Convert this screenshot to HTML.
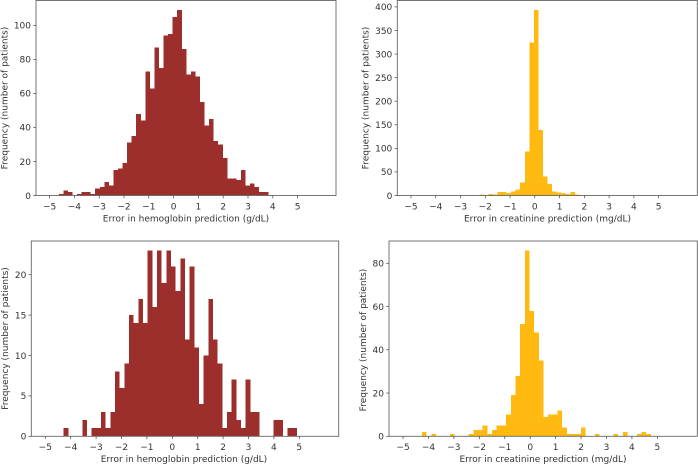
<!DOCTYPE html>
<html>
<head>
<meta charset="utf-8">
<title>Prediction error histograms</title>
<style>
html,body{margin:0;padding:0;background:#fff;}
svg{display:block;}
text{font-family:"DejaVu Sans","Liberation Sans",sans-serif;font-size:9px;fill:#333;}
</style>
</head>
<body>
<svg id="figure" width="698" height="464" viewBox="0 0 698 464" xmlns="http://www.w3.org/2000/svg"></svg>
<script>
const xTickValues = [-5,-4,-3,-2,-1,0,1,2,3,4,5];
const xTickLabels = ['\u22125','\u22124','\u22123','\u22122','\u22121','0','1','2','3','4','5'];
const binWidth = 0.1837;

const hemoglobinTopStart = -4.63;
const hemoglobinTopCounts = [1,3,2,0,1,2,2,1,4,5,8,6,15,16,19,31,35,48,44,73,63,87,75,94,95,105,109,86,71,73,70,55,41,45,32,30,22,10,10,9,15,6,7,5,2,2];
const hemoglobinTopYTicks = [0,20,40,60,80,100];

const creatinineTopStart = -4.63;
const creatinineTopCounts = [1,0,0,0,0,0,0,0,0,0,0,0,0,2,1,3,2,7,7,5,8,13,28,93,325,393,139,40,24,9,6,5,3,7,2,1,1,0,0,0,0,0,0,1,0,1,0,0,0,0,1];
const creatinineTopYTicks = [0,50,100,150,200,250,300,350,400];

const hemoglobinBottomStart = -4.275;
const hemoglobinBottomCounts = [1,0,0,0,2,0,1,1,3,1,3,8,6,9,15,14,17,14,23,16,23,19,23,21,18,22,12,21,11,4,10,17,12,9,1,3,7,2,1,7,3,3,0,0,0,2,2,0,1,1];
const hemoglobinBottomYTicks = [0,5,10,15,20];

const creatinineBottomStart = -4.255;
const creatinineBottomCounts = [2,0,1,0,0,0,1,0,0,0,1,3,3,5,1,3,5,5,10,19,28,52,86,58,48,35,9,10,10,12,4,1,1,1,4,0,0,1,0,0,0,1,0,2,0,0,1,2,1];
const creatinineBottomYTicks = [0,20,40,60,80];

const svgNS = 'http://www.w3.org/2000/svg';
const figure = document.getElementById('figure');

function make(parent, tag, attrs, text) {
  const el = document.createElementNS(svgNS, tag);
  for (const k in attrs) el.setAttribute(k, attrs[k]);
  if (text !== undefined) el.textContent = text;
  parent.appendChild(el);
  return el;
}

function drawPanel(p) {
  const g = make(figure, 'g', {});
  
  

  const xScale = v => p.zeroX + v * p.pxPerX;
  const yScale = v => p.bottom - v * p.pxPerY;

  p.counts.forEach((count, i) => {
    if (count <= 0) return;
    const left = xScale(p.start + i * binWidth);
    const right = xScale(p.start + (i + 1) * binWidth);
    const bar = make(g, 'rect', {
      x: left, y: yScale(count), width: right - left, height: p.bottom - yScale(count),
      fill: p.color, 'shape-rendering': 'crispEdges'
    });
    
    
  });

  const frame = make(g, 'rect', {
    x: p.left, y: p.top, width: p.right - p.left, height: p.bottom - p.top,
    fill: 'none', stroke: '#666', 'stroke-width': 0.9
  });
  
  

  xTickValues.forEach((v, i) => {
    const x = xScale(v);
    const tick = make(g, 'line', {x1: x, x2: x, y1: p.bottom, y2: p.bottom + 2.8, stroke: '#444', 'stroke-width': 0.7});
    
    
    const label = make(g, 'text', {x: x, y: p.bottom + 13.8, 'text-anchor': 'middle'}, xTickLabels[i]);
    
    
  });

  p.yTicks.forEach(v => {
    const y = yScale(v);
    const tick = make(g, 'line', {x1: p.left - 2.8, x2: p.left, y1: y, y2: y, stroke: '#444', 'stroke-width': 0.7});
    
    
    const label = make(g, 'text', {x: p.left - 5, y: y + 3.3, 'text-anchor': 'end'}, String(v));
    
    
  });

  const xTitle = make(g, 'text', {x: p.xTitleX, y: p.bottom + 25.8, 'text-anchor': 'middle'}, p.xTitle);
  
  

  const yTitle = make(g, 'text', {
    x: 0, y: 0, 'text-anchor': 'middle',
    transform: 'translate(' + p.yTitleX + ',' + p.yTitleY + ') rotate(-90)'
  }, 'Frequency (number of patients)');
  
  
}

drawPanel({
  name: 'hemoglobin-top-panel', color: '#9c2f2b',
  counts: hemoglobinTopCounts, start: hemoglobinTopStart, yTicks: hemoglobinTopYTicks,
  left: 36, right: 336, top: 0.5, bottom: 195.5,
  zeroX: 173.6, pxPerX: 24.8, pxPerY: 1.702,
  xTitle: 'Error in hemoglobin prediction (g/dL)', xTitleX: 186, yTitleX: 7.5, yTitleY: 98
});
drawPanel({
  name: 'creatinine-top-panel', color: '#ffb90f',
  counts: creatinineTopCounts, start: creatinineTopStart, yTicks: creatinineTopYTicks,
  left: 397.3, right: 697.3, top: 0.5, bottom: 195.5,
  zeroX: 534.8, pxPerX: 24.77, pxPerY: 0.4715,
  xTitle: 'Error in creatinine prediction (mg/dL)', xTitleX: 547.5, yTitleX: 368.5, yTitleY: 98
});
drawPanel({
  name: 'hemoglobin-bottom-panel', color: '#9c2f2b',
  counts: hemoglobinBottomCounts, start: hemoglobinBottomStart, yTicks: hemoglobinBottomYTicks,
  left: 31.3, right: 338.7, top: 241, bottom: 436.3,
  zeroX: 172.3, pxPerX: 25.4, pxPerY: 8.08,
  xTitle: 'Error in hemoglobin prediction (g/dL)', xTitleX: 184, yTitleX: 7.8, yTitleY: 338.5
});
drawPanel({
  name: 'creatinine-bottom-panel', color: '#ffb90f',
  counts: creatinineBottomCounts, start: creatinineBottomStart, yTicks: creatinineBottomYTicks,
  left: 389, right: 697.3, top: 241, bottom: 436.3,
  zeroX: 530.2, pxPerX: 25.43, pxPerY: 2.1625,
  xTitle: 'Error in creatinine prediction (mg/dL)', xTitleX: 543, yTitleX: 365.8, yTitleY: 340
});
</script>
</body>
</html>
